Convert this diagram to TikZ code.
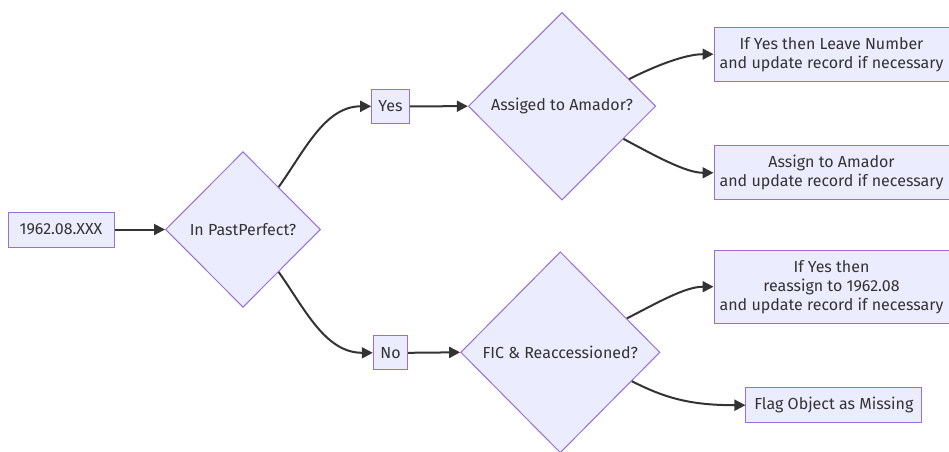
\documentclass[tikz,border=0pt]{standalone}
\usepackage{fontspec}
\setmainfont{Fira Sans}
\usetikzlibrary{shapes.geometric,arrows.meta}
\definecolor{nodefill}{HTML}{ECECFF}
\definecolor{nodeline}{HTML}{9370DB}
\definecolor{ink}{HTML}{333333}
\tikzset{
  box/.style={draw=nodeline,fill=nodefill,line width=1pt,text=ink,inner sep=0pt,align=center,
    font=\fontsize{16}{19}\selectfont},
  dia/.style={diamond,draw=nodeline,fill=nodefill,line width=1pt,text=ink,inner sep=0pt,align=center,
    font=\fontsize{16}{19}\selectfont},
  edge/.style={draw=ink,line width=2pt,-{Triangle[length=11pt,width=11pt]}},
}
\begin{document}
\begin{tikzpicture}[x=1pt,y=-1pt]
\useasboundingbox (0,0) rectangle (949,451);
\node[box,minimum width=106pt,minimum height=35pt] (start) at (61,229.5) {1962.08.XXX};
\node[dia,minimum width=155pt,minimum height=155.6pt] (pp) at (243,229.5) {In PastPerfect?};
\node[box,minimum width=37.6pt,minimum height=34pt] (yes) at (390.5,106.3) {Yes};
\node[box,minimum width=34.4pt,minimum height=34.3pt] (no) at (390.5,352.8) {No};
\node[dia,minimum width=187.4pt,minimum height=187.7pt] (as) at (562,106.2) {Assiged to Amador?};
\node[dia,minimum width=199.3pt,minimum height=201pt] (fic) at (560.3,352.3) {FIC \& Reaccessioned?};
\node[box,minimum width=235pt,minimum height=53.7pt] (leave) at (831.5,54.2) {If Yes then Leave Number\\and update record if necessary};
\node[box,minimum width=235pt,minimum height=54.3pt] (assign) at (831.5,172.8) {Assign to Amador\\and update record if necessary};
\node[box,minimum width=235pt,minimum height=73.3pt] (reassign) at (831.5,286.7) {If Yes then\\reassign to 1962.08\\and update record if necessary};
\node[box,minimum width=175.7pt,minimum height=35pt] (flag) at (833.8,405.2) {Flag Object as Missing};
\draw[edge] (start.east) -- (pp.west);
\draw[edge] (pp.50) .. controls (305,150) and (325,106.3) .. (yes.west);
\draw[edge] (pp.-50) .. controls (305,309) and (325,352.8) .. (no.west);
\draw[edge] (yes.east) -- (as.west);
\draw[edge] (no.east) -- (fic.west);
\draw[edge] (as.22) .. controls (655,66) and (685,54.2) .. (leave.west);
\draw[edge] (as.-28) .. controls (652,154) and (685,172.8) .. (assign.west);
\draw[edge] (fic.27) .. controls (657,303) and (685,286.7) .. (reassign.west);
\draw[edge] (fic.-22) .. controls (665,398) and (690,405.2) .. (flag.west);
\end{tikzpicture}
\end{document}
